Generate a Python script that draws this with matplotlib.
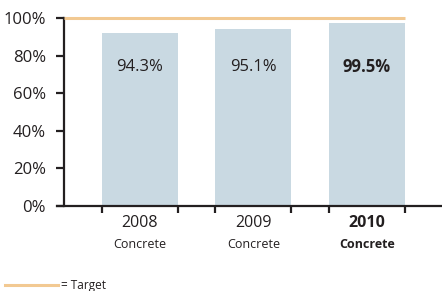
import matplotlib
matplotlib.use("Agg")
from matplotlib import pyplot as plt
import matplotlib.transforms as mtransforms

years = ["2008", "2009", "2010"]
sublabels = ["Concrete", "Concrete", "Concrete"]
bar_heights = [92.0, 94.1, 97.3]
bar_labels = ["94.3%", "95.1%", "99.5%"]
bold = [False, False, True]
target = 100
yticks = [0, 20, 40, 60, 80, 100]

plt.rcParams['font.family'] = ['Open Sans', 'DejaVu Sans']
dark = '#231F20'

fig = plt.figure(figsize=(4.42, 2.91), dpi=100)
ax = fig.add_axes([57 / 442, 85 / 291, 385 / 442, 188 / 291])

x = list(range(len(years)))
ax.bar(x, bar_heights, width=0.67, color='#C9D9E2', zorder=1)

ax.set_xlim(-0.731, 2.661)
ax.set_ylim(0, 100)

# target line
ax.plot([-0.670, 2.335], [target, target], color='#F2C992', lw=2.2,
        solid_capstyle='butt', clip_on=False, zorder=3)

for s in ['top', 'right']:
    ax.spines[s].set_visible(False)
ax.spines['left'].set_position(('data', -0.670))
for s in ['left', 'bottom']:
    ax.spines[s].set_linewidth(1.6)
    ax.spines[s].set_color(dark)
ax.spines['bottom'].set_zorder(4)

ax.set_yticks(yticks)
ax.set_yticklabels([f"{v}%" for v in yticks], fontsize=12, color=dark)
ax.tick_params(axis='y', direction='out', length=6, width=1.6, color=dark, pad=7)

edges = []
for xi in x:
    edges += [xi - 0.335, xi + 0.335]
ax.set_xticks(edges)
ax.set_xticklabels([])
ax.tick_params(axis='x', direction='out', length=5, width=1.6, color=dark)

trans = mtransforms.blended_transform_factory(ax.transData, fig.transFigure)
for xi, yr, sub, lab, b in zip(x, years, sublabels, bar_labels, bold):
    w = 'bold' if b else 'normal'
    ax.text(xi, 74, lab, ha='center', va='center', fontsize=12,
            fontweight=w, color=dark)
    ax.text(xi, 1 - 223 / 291, yr, transform=trans, ha='center', va='center',
            fontsize=11.5, fontweight=w, color=dark)
    ax.text(xi, 1 - 245 / 291, sub, transform=trans, ha='center', va='center',
            fontsize=9, fontweight=w, color=dark)

# legend
fig.add_artist(plt.Line2D([5 / 442, 58 / 442], [1 - 285 / 291] * 2,
                          color='#F2C992', lw=2.2, transform=fig.transFigure))
fig.text(61 / 442, 1 - 285 / 291, "= Target", fontsize=8.5, color=dark,
         va='center', ha='left')

fig.savefig("out.png", dpi=100)
